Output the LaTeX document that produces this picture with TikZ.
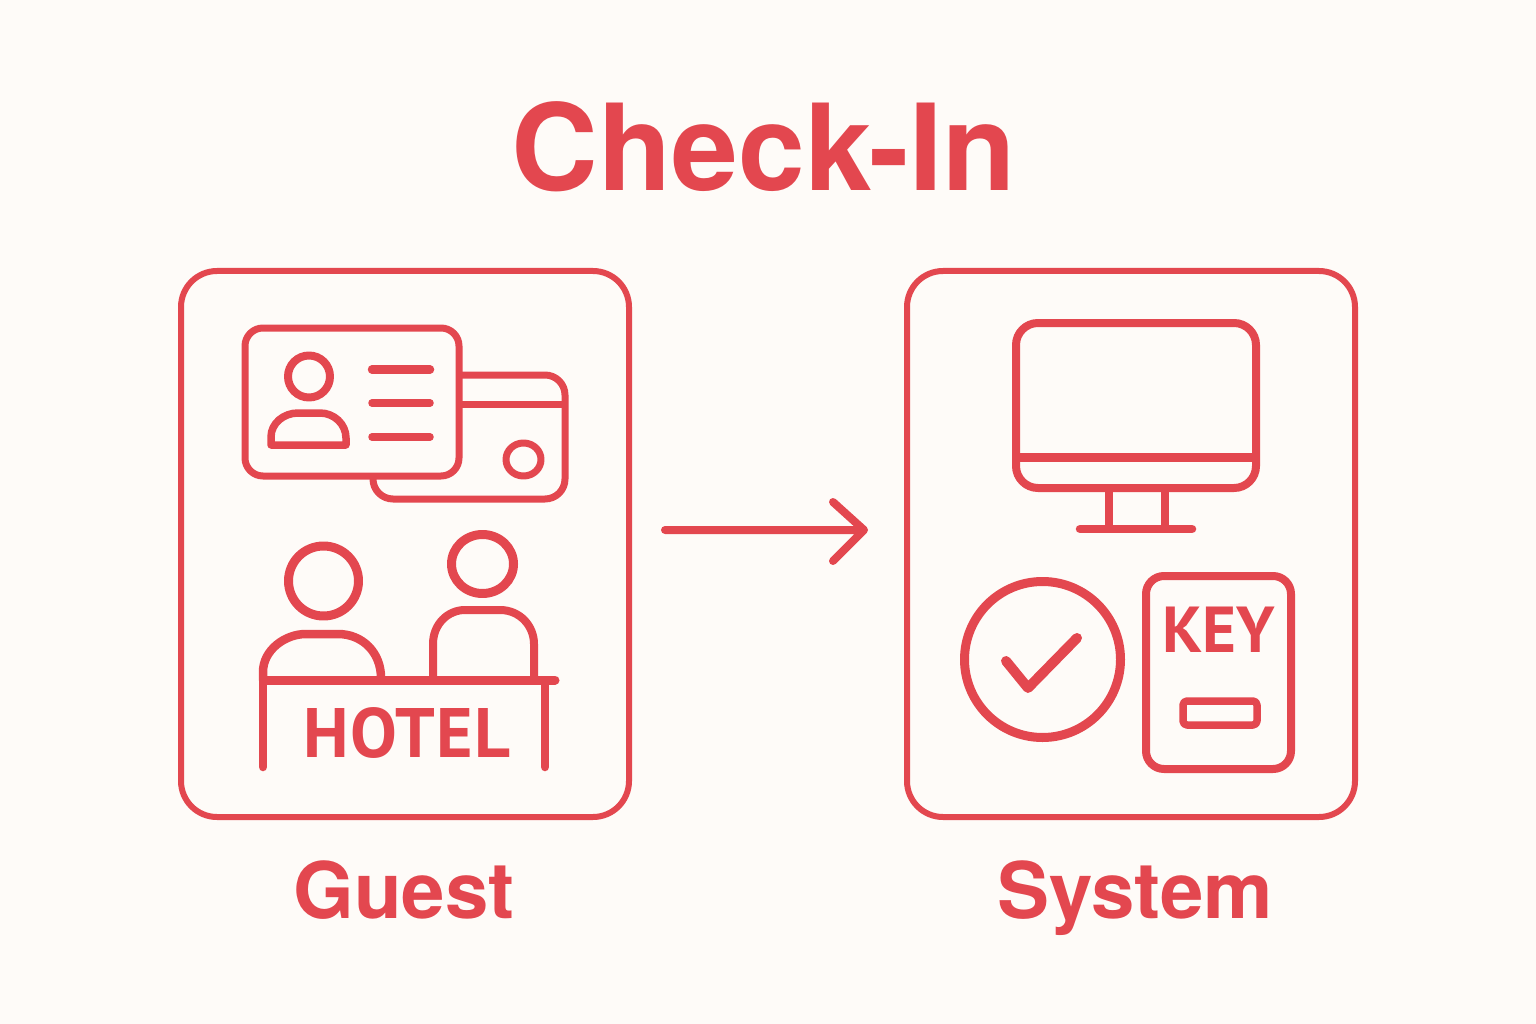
\documentclass[tikz,border=0pt]{standalone}
\usepackage{fontspec}
\setmainfont{TeX Gyre Heros}
\newfontfamily\signfont{PT Sans}
\definecolor{bgc}{HTML}{FEFBF8}
\definecolor{red1}{HTML}{E3474F}
\tikzset{
  ink/.style={draw=red1,line width=7pt,line cap=round,line join=round},
  panel/.style={draw=red1,line width=6pt,rounded corners=36pt,minimum width=448pt,minimum height=546pt,inner sep=0pt},
  label/.style={text=red1,inner sep=0pt},
}
\begin{document}
\begin{tikzpicture}[x=1pt,y=-1pt]
\useasboundingbox (0,0) rectangle (1536,1024);
\fill[bgc] (0,0) rectangle (1536,1024);
\node[label,font=\fontsize{120}{120}\selectfont\bfseries] (title) at (764,147) {Check-In};
\node[panel] (guest) at (405,544) {};
\node[panel] (system) at (1131,544) {};
\node[label,font=\fontsize{78}{78}\selectfont\bfseries,anchor=base] (guestlabel) at (404,918) {Guest};
\node[label,font=\fontsize{78}{78}\selectfont\bfseries,anchor=base] (systemlabel) at (1135,918) {System};
% arrow
\coordinate (as) at (665,530);
\coordinate (ae) at (864,530);
\draw[draw=red1,line width=8pt,line cap=round,line join=round] (as) -- (ae) (833,502) -- (ae) -- (833,561);
% back card
\draw[ink,rounded corners=20pt] (460,375) -- (565,375) -- (565,499) -- (373,499) -- (373,477);
\draw[ink,line cap=butt] (460,404) -- (565,404);
\draw[ink] (523.5,459.5) circle[x radius=17.5,y radius=16.5];
% id card
\draw[ink,rounded corners=18pt] (245,328) rectangle (459,476);
\draw[ink,line width=8pt] (309,376.5) circle[radius=21];
\draw[ink,line width=7.5pt] (271,445) -- (271,437) .. controls (271,423) and (284,413) .. (298,413) -- (320,413) .. controls (334,413) and (346,424) .. (346,438) -- (346,445) -- cycle;
\draw[draw=red1,line width=8.5pt,line cap=round] (372,369.5) -- (430,369.5);
\draw[draw=red1,line width=7.5pt,line cap=round] (372,403) -- (430,403);
\draw[draw=red1,line width=7.5pt,line cap=round] (372,437) -- (430,437);
% people
\draw[ink,line width=9pt] (323.5,581) circle[radius=35];
\draw[ink,line width=9pt] (482.5,564) circle[x radius=31,y radius=29.5];
\draw[ink,line width=8.5pt] (263,680) -- (263,672) .. controls (263,650) and (285,634) .. (306,634) -- (338,634) .. controls (362,634) and (381,652) .. (381,678);
\draw[ink,line width=8pt] (433,678) -- (433,644) .. controls (433,624) and (448,610) .. (465,610) -- (500,610) .. controls (520,610) and (534,626) .. (534,644) -- (534,678);
% desk
\draw[ink,line width=9pt] (264,680) -- (555,680);
\draw[ink,line width=8.5pt] (263,680) -- (263,767);
\draw[ink,line width=8.5pt] (545,682) -- (545,767);
\node[label,font=\signfont\fontsize{70}{70}\selectfont\bfseries\addfontfeatures{LetterSpace=2},anchor=base] (hotel) at (407,757) {HOTEL};
% monitor
\draw[ink,line width=8pt,rounded corners=22pt] (1016,323) rectangle (1256,488);
\draw[ink,line width=9pt,line cap=butt] (1016,457) -- (1256,457);
\draw[ink,line width=7.5pt,line cap=butt] (1109,488) -- (1109,527);
\draw[ink,line width=7.5pt,line cap=butt] (1165,488) -- (1165,527);
\draw[ink,line width=8.5pt] (1080,529) -- (1192,529);
% check
\draw[ink,line width=9pt] (1042.5,659.5) circle[radius=78];
\draw[ink,line width=10pt] (1006,661) -- (1028,688) -- (1077,638);
% key
\draw[ink,line width=8pt,rounded corners=18pt] (1146,576) rectangle (1291,769);
\node[label,font=\signfont\fontsize{65}{65}\selectfont\bfseries,anchor=base] (key) at (1219,652) {KEY};
\draw[ink,line width=7.5pt,rounded corners=4pt] (1183,701) rectangle (1257,725);
\end{tikzpicture}
\end{document}
